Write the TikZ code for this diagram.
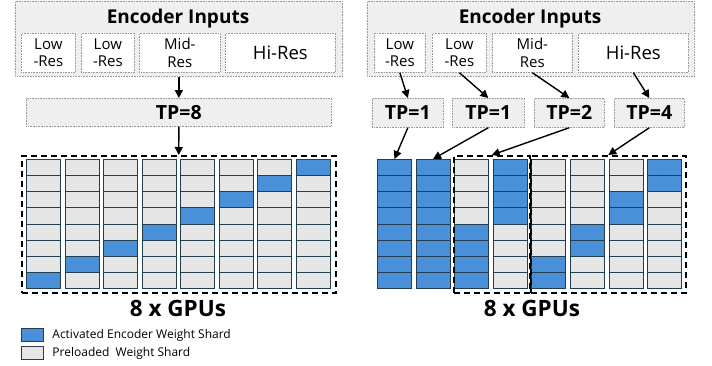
\documentclass[tikz,border=0pt]{standalone}
\usepackage{fontspec}
\setmainfont{Open Sans}
\usetikzlibrary{arrows.meta}

\definecolor{shardblue}{HTML}{4A90D9}
\definecolor{shardgrey}{HTML}{E6E6E6}
\definecolor{shardline}{HTML}{233E4F}
\definecolor{panelfill}{HTML}{EFEFEF}
\definecolor{dotline}{HTML}{9A9A9A}

\tikzset{
  dotbox/.style={draw=dotline, line width=0.7pt, dash pattern=on 0.8pt off 0.8pt,
                 inner sep=0pt, anchor=north west},
  panel/.style={dotbox, fill=panelfill},
  inbox/.style={dotbox, fill=white, align=center,
                font=\fontsize{15}{17.5}\selectfont},
  tpbox/.style={dotbox, fill=panelfill, font=\bfseries\fontsize{19.5}{21}\selectfont},
  title/.style={font=\bfseries\fontsize{19}{21}\selectfont},
  gpubox/.style={draw=black, line width=1.5pt, dash pattern=on 6pt off 4pt,
                 inner sep=0pt, anchor=north west},
  cell/.style={draw=shardline, line width=0.9pt, minimum width=34pt,
               minimum height=16.125pt, inner sep=0pt, anchor=north west},
  feed/.style={draw=black, line width=1.4pt, -{Triangle[length=8pt,width=8pt]}},
  gpulabel/.style={font=\bfseries\fontsize{22.5}{24}\selectfont},
  legtext/.style={anchor=west, font=\fontsize{12}{13}\selectfont}
}

\begin{document}
\begin{tikzpicture}[x=1pt,y=-1pt]
\useasboundingbox (0,0) rectangle (712,365);

% ---------------- left: one TP=8 group ----------------
\node[panel, minimum width=327pt, minimum height=75pt] (encL) at (15,1) {};
\node[title] (encLt) at (178,19) {Encoder Inputs};
\node[inbox, minimum width=54pt, minimum height=39pt] (lowAL) at (21,33) {Low\\-Res};
\node[inbox, minimum width=53pt, minimum height=39pt] (lowBL) at (81,33) {Low\\-Res};
\node[inbox, minimum width=81pt, minimum height=39pt] (midL) at (139,33) {Mid-\\Res};
\node[inbox, minimum width=110pt, minimum height=39pt, font=\fontsize{18.5}{20}\selectfont] (hiL) at (225,33) {Hi-Res};

\node[tpbox, minimum width=305pt, minimum height=28pt] (tp8) at (26,98) {TP=8};

\node[gpubox, minimum width=314pt, minimum height=137pt] (gpuL) at (21,155) {};
\foreach \i in {0,...,7}{
  \foreach \j in {0,...,7}{
    \pgfmathtruncatemacro\on{\j==7-\i}
    \ifnum\on=1 \def\cellfill{shardblue}\else\def\cellfill{shardgrey}\fi
    \node[cell, fill=\cellfill] (L-\i-\j) at ({26+38.5*\i},{159+16.125*\j}) {};
  }
}
\node[gpulabel] (gpuLt) at (178,308) {8 x GPUs};

\draw[feed] (encL.south -| tp8.north) -- (tp8.north);
\draw[feed] (tp8.south) -- (gpuL.north);

% ---------------- right: mixed TP groups ----------------
\node[panel, minimum width=327pt, minimum height=75pt] (encR) at (367,1) {};
\node[title] (encRt) at (530,19) {Encoder Inputs};
\node[inbox, minimum width=51pt, minimum height=39pt] (lowAR) at (374,33) {Low\\-Res};
\node[inbox, minimum width=54pt, minimum height=39pt] (lowBR) at (432,33) {Low\\-Res};
\node[inbox, minimum width=80pt, minimum height=39pt] (midR) at (492,33) {Mid-\\Res};
\node[inbox, minimum width=110pt, minimum height=39pt, font=\fontsize{18.5}{20}\selectfont] (hiR) at (578,33) {Hi-Res};

\node[tpbox, minimum width=71pt, minimum height=29pt] (tp1a) at (372,98) {TP=1};
\node[tpbox, minimum width=72pt, minimum height=29pt] (tp1b) at (452,98) {TP=1};
\node[tpbox, minimum width=70pt, minimum height=29pt] (tp2) at (534,98) {TP=2};
\node[tpbox, minimum width=70pt, minimum height=29pt] (tp4) at (614,98) {TP=4};

\foreach \i/\lo/\hi in {0/0/7,1/0/7,2/4/7,3/0/3,4/6/7,5/4/5,6/2/3,7/0/1}{
  \foreach \j in {0,...,7}{
    \pgfmathtruncatemacro\on{and(\j>=\lo,\j<=\hi)}
    \ifnum\on=1 \def\cellfill{shardblue}\else\def\cellfill{shardgrey}\fi
    \node[cell, fill=\cellfill] (R-\i-\j) at ({377+38.6*\i},{159+16.125*\j}) {};
  }
}
\node[gpubox, minimum width=76pt, minimum height=137pt] (grp2) at (453,155) {};
\node[gpubox, minimum width=155pt, minimum height=137pt] (grp4) at (530,155) {};
\node[gpulabel] (gpuRt) at (532,308) {8 x GPUs};

\draw[feed] (lowAR.south) -- (tp1a.north);
\draw[feed] (lowBR.south) -- (tp1b.north);
\draw[feed] (midR.south) -- (tp2.north);
\draw[feed] (hiR.south) -- (tp4.north);

\draw[feed] (tp1a.south) -- (R-0-0.north);
\draw[feed] (tp1b.south) -- (R-1-0.north);
\draw[feed] (tp2.south) -- (grp2.north);
\draw[feed] (tp4.south) -- (grp4.north);

% ---------------- legend ----------------
\node[cell, fill=shardblue, minimum width=22pt, minimum height=13pt] (legA) at (21,328) {};
\node[legtext] (legAt) at ([xshift=5pt]legA.east) {Activated Encoder Weight Shard};
\node[cell, fill=shardgrey, minimum width=22pt, minimum height=13pt] (legB) at (21,346) {};
\node[legtext] (legBt) at ([xshift=5pt]legB.east) {Preloaded\ \ Weight Shard};
\end{tikzpicture}
\end{document}
